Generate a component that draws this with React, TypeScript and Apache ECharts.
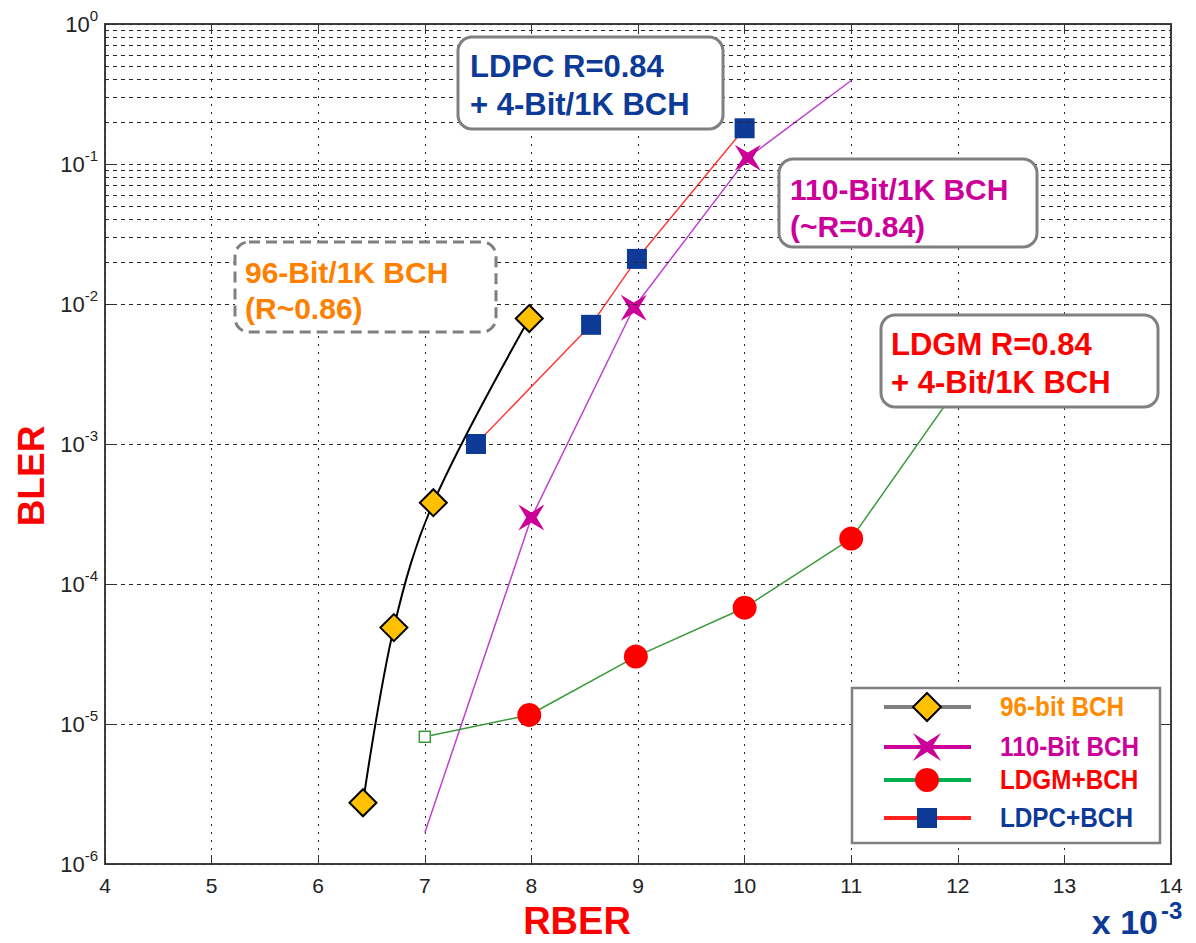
import React, { useEffect, useRef } from 'react';
import * as echarts from 'echarts';

// ---- Data (RBER in units of 1e-3, BLER) ----
const bch96X = [6.42, 6.71, 7.08, 7.98];
const bch96Y = [2.74e-6, 4.88e-5, 3.81e-4, 7.87e-3];
const bch110X = [7.0, 8.0, 8.96, 10.03, 11.0];
const bch110Y = [1.67e-6, 2.98e-4, 9.4e-3, 0.111, 0.395];
const ldgmX = [7.0, 7.98, 8.98, 10.0, 11.0, 12.0];
const ldgmY = [8.1e-6, 1.16e-5, 3.03e-5, 6.77e-5, 2.11e-4, 2.55e-3];
const ldpcX = [7.48, 8.56, 8.99, 10.0];
const ldpcY = [1.0e-3, 7.1e-3, 2.1e-2, 0.18];
const legendLabels = ['96-bit BCH', '110-Bit BCH', 'LDGM+BCH', 'LDPC+BCH'];
const xMin = 4;
const xMax = 14;
const yMinExp = -6;
const yMaxExp = 0;

const FONT = "'Liberation Sans', Arial, Helvetica, sans-serif";
const NAVY = '#0d3a96';
const MAGENTA = '#cc0099';
const ORANGE = '#ff8000';
const RED = '#ff0000';
const GRID = '#2a2a2a';
const STAR = 'path://M0,0L10,6L20,0L14,10L20,20L10,14L0,20L6,10Z';

function App() {
  const ref = useRef<HTMLDivElement>(null);
  useEffect(() => {
    if (!ref.current) return;
    const chart = echarts.init(ref.current, undefined, { renderer: 'svg' });

    const minorY: number[] = [];
    for (let e = yMinExp; e < yMaxExp; e++) {
      for (let m = 2; m <= 9; m++) minorY.push(m * Math.pow(10, e));
    }

    const pair = (xs: number[], ys: number[]) => xs.map((x, i) => [x, ys[i]]);

    const d110: any[] = pair(bch110X, bch110Y);
    d110[0] = { value: d110[0], symbol: 'none' };
    d110[d110.length - 1] = { value: d110[d110.length - 1], symbol: 'none' };

    const dLdgm: any[] = pair(ldgmX, ldgmY);
    dLdgm[0] = {
      value: dLdgm[0],
      symbol: 'rect',
      symbolSize: 11,
      itemStyle: { color: '#fff', borderColor: '#3a9a3a', borderWidth: 1.5 },
    };
    dLdgm[dLdgm.length - 1] = { value: dLdgm[dLdgm.length - 1], symbol: 'none' };

    const box = (x: number, y: number, w: number, h: number, dashed = false) => ({
      type: 'rect',
      z: 100,
      shape: { x, y, width: w, height: h, r: 14 },
      style: {
        fill: '#fff',
        stroke: '#808080',
        lineWidth: 3,
        lineDash: dashed ? [11, 6] : null,
      },
    });
    const txt = (x: number, y: number, text: string, fill: string, size: number, extra: any = {}) => ({
      type: 'text',
      z: 101,
      x,
      y,
      ...extra,
      style: {
        text,
        fill,
        fontFamily: FONT,
        fontWeight: 'bold',
        fontSize: size,
        align: extra.align || 'left',
        verticalAlign: 'middle',
      },
    });

    // legend geometry
    const lgY = [707, 747, 780, 818];
    const lgX1 = 884;
    const lgX2 = 971;
    const lgM = 927;
    const lgLineColors = ['#808080', '#cc0099', '#00b050', '#ff2020'];
    const lgTextColors = ['#ff8c00', MAGENTA, RED, NAVY];

    const legendEls: any[] = [
      {
        type: 'rect',
        z: 100,
        shape: { x: 852, y: 688, width: 308, height: 155 },
        style: { fill: '#fff', stroke: '#808080', lineWidth: 2.5 },
      },
    ];
    lgY.forEach((y, i) => {
      legendEls.push({
        type: 'line',
        z: 101,
        shape: { x1: lgX1, y1: y, x2: lgX2, y2: y },
        style: { stroke: lgLineColors[i], lineWidth: 4 },
      });
      legendEls.push({
        type: 'text',
        z: 102,
        x: 1000,
        y,
        scaleX: 0.9,
        style: {
          text: legendLabels[i],
          fill: lgTextColors[i],
          fontFamily: FONT,
          fontWeight: 'bold',
          fontSize: 27,
          align: 'left',
          verticalAlign: 'middle',
        },
      });
    });
    // legend markers
    legendEls.push({
      type: 'polygon',
      z: 103,
      shape: { points: [[lgM, lgY[0] - 14], [lgM + 14, lgY[0]], [lgM, lgY[0] + 14], [lgM - 14, lgY[0]]] },
      style: { fill: '#ffc000', stroke: '#000', lineWidth: 2 },
    });
    const s = 14;
    const inn = 5;
    const cy = lgY[1];
    legendEls.push({
      type: 'polygon',
      z: 103,
      shape: {
        points: [
          [lgM - s, cy - s], [lgM, cy - inn], [lgM + s, cy - s], [lgM + inn, cy],
          [lgM + s, cy + s], [lgM, cy + inn], [lgM - s, cy + s], [lgM - inn, cy],
        ],
      },
      style: { fill: MAGENTA },
    });
    legendEls.push({
      type: 'circle',
      z: 103,
      shape: { cx: lgM, cy: lgY[2], r: 12 },
      style: { fill: RED },
    });
    legendEls.push({
      type: 'rect',
      z: 103,
      shape: { x: lgM - 10, y: lgY[3] - 10, width: 20, height: 20 },
      style: { fill: NAVY },
    });

    const option: any = {
      animation: false,
      backgroundColor: '#fff',
      grid: {
        left: 105,
        top: 24,
        width: 1066,
        height: 840,
        show: true,
        borderColor: '#333',
        borderWidth: 1.5,
        backgroundColor: '#fff',
      },
      xAxis: [
        {
          type: 'value',
          min: xMin,
          max: xMax,
          interval: 1,
          axisLine: { show: true, onZero: false, lineStyle: { color: '#333', width: 1.5 } },
          axisTick: { show: true, inside: true, length: 9, lineStyle: { color: '#333' } },
          axisLabel: { fontFamily: FONT, fontSize: 21, color: '#222', margin: 11 },
          splitLine: { show: true, lineStyle: { color: GRID, type: [2, 6], width: 1 } },
        },
        {
          type: 'value',
          position: 'top',
          min: xMin,
          max: xMax,
          interval: 1,
          axisLine: { show: true, onZero: false, lineStyle: { color: '#333', width: 1.5 } },
          axisTick: { show: true, inside: true, length: 9, lineStyle: { color: '#333' } },
          axisLabel: { show: false },
          splitLine: { show: false },
        },
      ],
      yAxis: [
        {
          type: 'log',
          logBase: 10,
          min: Math.pow(10, yMinExp),
          max: Math.pow(10, yMaxExp),
          axisLine: { show: true, lineStyle: { color: '#333', width: 1.5 } },
          axisTick: { show: true, inside: true, length: 9, lineStyle: { color: '#333' } },
          axisLabel: {
            margin: 7,
            formatter: (v: number) => `{a|10}{b|${Math.round(Math.log10(v))}}`,
            rich: {
              a: { fontFamily: FONT, fontSize: 22, color: '#222', lineHeight: 22 },
              b: { fontFamily: FONT, fontSize: 15, color: '#222', lineHeight: 15, padding: [0, 0, 17, 0] },
            },
          },
          splitLine: { show: true, lineStyle: { color: GRID, type: [4, 4], width: 1 } },
        },
        {
          type: 'log',
          logBase: 10,
          position: 'right',
          min: Math.pow(10, yMinExp),
          max: Math.pow(10, yMaxExp),
          axisLine: { show: true, lineStyle: { color: '#333', width: 1.5 } },
          axisTick: { show: true, inside: true, length: 9, lineStyle: { color: '#333' } },
          axisLabel: { show: false },
          splitLine: { show: false },
        },
      ],
      series: [
        {
          type: 'line',
          name: 'grid',
          silent: true,
          data: [[xMin, Math.pow(10, yMinExp)]],
          showSymbol: false,
          lineStyle: { opacity: 0 },
          markLine: {
            silent: true,
            symbol: 'none',
            label: { show: false },
            lineStyle: { color: GRID, type: [4, 4], width: 1 },
            data: minorY.map((v) => ({ yAxis: v })),
          },
          z: 1,
        },
        {
          type: 'line',
          name: legendLabels[1],
          data: d110,
          symbol: STAR,
          symbolSize: 26,
          itemStyle: { color: MAGENTA },
          lineStyle: { color: '#c040d0', width: 1.5 },
          z: 3,
        },
        {
          type: 'line',
          name: legendLabels[3],
          data: pair(ldpcX, ldpcY),
          symbol: 'rect',
          symbolSize: 20,
          itemStyle: { color: NAVY },
          lineStyle: { color: '#ff3a3a', width: 1.5 },
          z: 4,
        },
        {
          type: 'line',
          name: legendLabels[2],
          data: dLdgm,
          symbol: 'circle',
          symbolSize: 24,
          itemStyle: { color: RED },
          lineStyle: { color: '#3a9a3a', width: 1.5 },
          z: 3,
        },
        {
          type: 'line',
          name: legendLabels[0],
          data: pair(bch96X, bch96Y),
          smooth: 0.35,
          symbol: 'diamond',
          symbolSize: 27,
          itemStyle: { color: '#ffc000', borderColor: '#000', borderWidth: 2 },
          lineStyle: { color: '#000', width: 2 },
          z: 5,
        },
      ],
      graphic: [
        // annotation boxes
        box(458, 37, 265, 92),
        txt(470, 66, 'LDPC R=0.84', NAVY, 31),
        txt(470, 104, '+ 4-Bit/1K BCH', NAVY, 31),
        box(779, 159, 258, 88),
        txt(790, 189, '110-Bit/1K BCH', MAGENTA, 30),
        txt(790, 226, '(~R=0.84)', MAGENTA, 30),
        box(235, 242, 261, 90, true),
        txt(245, 272, '96-Bit/1K BCH', ORANGE, 30),
        txt(245, 308, '(R~0.86)', ORANGE, 30),
        box(881, 315, 277, 92),
        txt(891, 344, 'LDGM R=0.84', RED, 31),
        txt(891, 382, '+ 4-Bit/1K BCH', RED, 31),
        ...legendEls,
        // axis titles
        txt(577, 921, 'RBER', RED, 38, { align: 'center' }),
        {
          type: 'text',
          z: 101,
          x: 31,
          y: 476,
          rotation: Math.PI / 2,
          style: {
            text: 'BLER',
            fill: RED,
            fontFamily: FONT,
            fontWeight: 'bold',
            fontSize: 37,
            align: 'center',
            verticalAlign: 'middle',
          },
        },
        txt(1158, 922, 'x 10', NAVY, 34, { align: 'right' }),
        txt(1161, 910, '-3', NAVY, 24),
      ],
    };

    chart.setOption(option);
    return () => chart.dispose();
  }, []);

  return (
    <div
      ref={ref}
      style={{ position: 'fixed', left: 0, top: 0, width: 1196, height: 943, background: '#fff' }}
    />
  );
}

export default App;
